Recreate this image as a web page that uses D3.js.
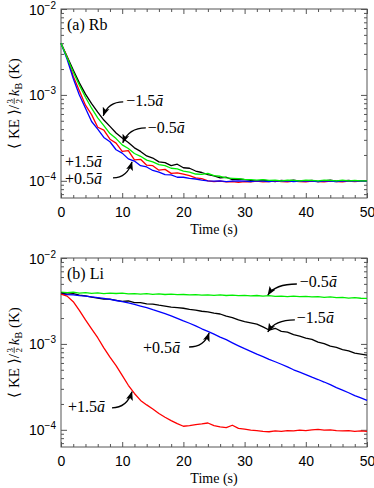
<!DOCTYPE html>
<html>
<head>
<meta charset="utf-8">
<script src="https://cdn.jsdelivr.net/npm/d3@7"></script>
<style>
  body { margin: 0; background: #fff; }
  svg { display: block; font-family: "Liberation Serif", "Times New Roman", serif; }
</style>
</head>
<body>
<svg id="chart" width="374" height="488"></svg>
<script>
// sampled once per second, 0..50 s
const times = d3.range(0, 51);

// (a) Rb, <KE>/(3/2 kB) in K
const rbM15 = [4.0e-3, 2.8e-3, 1.95e-3, 1.38e-3, 1.02e-3, 7.9e-4, 6.3e-4, 5.1e-4, 4.3e-4, 3.6e-4,
  3.15e-4, 2.8e-4, 2.42e-4, 2.2e-4, 1.95e-4, 1.84e-4, 1.66e-4, 1.63e-4, 1.5e-4, 1.56e-4,
  1.42e-4, 1.4e-4, 1.3e-4, 1.25e-4, 1.18e-4, 1.14e-4, 1.08e-4, 1.1e-4, 1.03e-4, 1.05e-4,
  1.03e-4, 1.01e-4, 0.99e-4, 1.02e-4, 1.0e-4, 0.98e-4, 1.01e-4, 1.0e-4, 1.02e-4, 0.99e-4,
  1.0e-4, 1.01e-4, 0.98e-4, 1.0e-4, 1.02e-4, 0.99e-4, 1.0e-4, 1.01e-4, 0.99e-4, 1.0e-4, 1.0e-4];
const rbM05 = [4.0e-3, 2.7e-3, 1.85e-3, 1.3e-3, 9.4e-4, 7.0e-4, 5.4e-4, 4.4e-4, 3.55e-4, 3.1e-4,
  2.62e-4, 2.38e-4, 2.08e-4, 1.93e-4, 1.74e-4, 1.66e-4, 1.54e-4, 1.5e-4, 1.4e-4, 1.38e-4,
  1.3e-4, 1.26e-4, 1.2e-4, 1.19e-4, 1.22e-4, 1.15e-4, 1.13e-4, 1.08e-4, 1.07e-4, 1.06e-4,
  1.04e-4, 1.03e-4, 1.02e-4, 1.03e-4, 1.01e-4, 1.02e-4, 1.0e-4, 1.02e-4, 1.01e-4, 1.0e-4,
  1.02e-4, 1.01e-4, 1.0e-4, 1.02e-4, 1.01e-4, 1.0e-4, 1.02e-4, 1.0e-4, 1.01e-4, 1.0e-4, 1.0e-4];
const rbP15 = [4.0e-3, 2.75e-3, 1.65e-3, 1.12e-3, 7.6e-4, 5.9e-4, 4.2e-4, 3.9e-4, 3.05e-4, 2.75e-4,
  2.2e-4, 2.25e-4, 1.75e-4, 1.78e-4, 1.52e-4, 1.5e-4, 1.33e-4, 1.36e-4, 1.22e-4, 1.24e-4,
  1.2e-4, 1.15e-4, 1.08e-4, 1.06e-4, 1.0e-4, 0.98e-4, 0.99e-4, 0.97e-4, 0.98e-4, 0.96e-4,
  0.98e-4, 0.97e-4, 0.99e-4, 0.97e-4, 0.98e-4, 1.0e-4, 0.98e-4, 0.97e-4, 0.99e-4, 0.98e-4,
  0.97e-4, 0.99e-4, 0.98e-4, 0.97e-4, 0.99e-4, 0.98e-4, 0.97e-4, 0.99e-4, 0.98e-4, 0.99e-4, 1.0e-4];
const rbP05 = [4.0e-3, 2.6e-3, 1.55e-3, 1.0e-3, 7.0e-4, 4.9e-4, 4.0e-4, 3.2e-4, 2.85e-4, 2.3e-4,
  2.1e-4, 1.8e-4, 1.7e-4, 1.5e-4, 1.45e-4, 1.32e-4, 1.26e-4, 1.18e-4, 1.17e-4, 1.1e-4,
  1.1e-4, 1.07e-4, 1.05e-4, 1.02e-4, 1.0e-4, 0.99e-4, 1.0e-4, 0.98e-4, 0.99e-4, 1.0e-4,
  0.99e-4, 0.98e-4, 1.0e-4, 0.99e-4, 0.98e-4, 1.0e-4, 0.99e-4, 1.0e-4, 0.98e-4, 0.99e-4,
  1.0e-4, 0.99e-4, 0.98e-4, 1.0e-4, 0.99e-4, 0.98e-4, 1.0e-4, 0.99e-4, 0.99e-4, 1.0e-4, 0.99e-4];

// (b) Li
const liM05 = [4.0e-3, 3.95e-3, 4.0e-3, 3.9e-3, 3.95e-3, 3.88e-3, 3.92e-3, 3.85e-3, 3.9e-3, 3.86e-3,
  3.9e-3, 3.82e-3, 3.85e-3, 3.8e-3, 3.84e-3, 3.78e-3, 3.82e-3, 3.76e-3, 3.8e-3, 3.74e-3,
  3.76e-3, 3.72e-3, 3.75e-3, 3.7e-3, 3.73e-3, 3.68e-3, 3.72e-3, 3.66e-3, 3.7e-3, 3.65e-3,
  3.68e-3, 3.62e-3, 3.66e-3, 3.6e-3, 3.64e-3, 3.58e-3, 3.6e-3, 3.56e-3, 3.6e-3, 3.55e-3,
  3.57e-3, 3.52e-3, 3.55e-3, 3.48e-3, 3.52e-3, 3.46e-3, 3.48e-3, 3.42e-3, 3.45e-3, 3.4e-3, 3.38e-3];
const liM15 = [3.9e-3, 3.8e-3, 3.85e-3, 3.7e-3, 3.62e-3, 3.5e-3, 3.42e-3, 3.32e-3, 3.32e-3, 3.22e-3,
  3.12e-3, 3.16e-3, 3.02e-3, 3.02e-3, 2.92e-3, 2.9e-3, 2.82e-3, 2.76e-3, 2.68e-3, 2.64e-3,
  2.6e-3, 2.52e-3, 2.47e-3, 2.4e-3, 2.36e-3, 2.28e-3, 2.23e-3, 2.1e-3, 2.02e-3, 1.9e-3,
  1.82e-3, 1.76e-3, 1.7e-3, 1.58e-3, 1.45e-3, 1.52e-3, 1.4e-3, 1.37e-3, 1.28e-3, 1.23e-3,
  1.17e-3, 1.13e-3, 1.05e-3, 1.01e-3, 0.94e-3, 0.91e-3, 0.86e-3, 0.83e-3, 0.78e-3, 0.76e-3, 0.74e-3];
const liP05 = [3.8e-3, 3.75e-3, 3.72e-3, 3.65e-3, 3.6e-3, 3.52e-3, 3.45e-3, 3.38e-3, 3.3e-3, 3.2e-3,
  3.1e-3, 3.0e-3, 2.88e-3, 2.76e-3, 2.64e-3, 2.5e-3, 2.38e-3, 2.25e-3, 2.12e-3, 1.98e-3,
  1.85e-3, 1.74e-3, 1.62e-3, 1.5e-3, 1.4e-3, 1.3e-3, 1.2e-3, 1.12e-3, 1.03e-3, 0.95e-3,
  0.88e-3, 0.82e-3, 0.76e-3, 0.71e-3, 0.66e-3, 0.62e-3, 0.58e-3, 0.54e-3, 0.5e-3, 0.47e-3,
  0.44e-3, 0.41e-3, 0.385e-3, 0.36e-3, 0.335e-3, 0.31e-3, 0.29e-3, 0.27e-3, 0.25e-3, 0.235e-3, 0.22e-3];
const liP15 = [3.8e-3, 3.6e-3, 3.1e-3, 2.45e-3, 1.9e-3, 1.5e-3, 1.18e-3, 9.0e-4, 7.0e-4, 5.6e-4,
  4.3e-4, 3.3e-4, 2.65e-4, 2.2e-4, 1.95e-4, 1.75e-4, 1.55e-4, 1.4e-4, 1.28e-4, 1.18e-4,
  1.1e-4, 1.12e-4, 1.15e-4, 1.17e-4, 1.2e-4, 1.12e-4, 1.08e-4, 1.06e-4, 1.13e-4, 1.04e-4,
  1.02e-4, 0.99e-4, 0.98e-4, 0.96e-4, 0.95e-4, 0.97e-4, 0.96e-4, 0.98e-4, 0.97e-4, 0.99e-4,
  0.98e-4, 1.0e-4, 1.01e-4, 0.99e-4, 1.0e-4, 0.98e-4, 0.97e-4, 0.98e-4, 0.96e-4, 0.97e-4, 0.96e-4];

const xMajorTicks = [0, 10, 20, 30, 40, 50];
const yDecades = [1e-4, 1e-3, 1e-2];
const panelLabels = ["(a) Rb", "(b) Li"];

const colors = { m15: "#000000", m05: "#00ee00", p05: "#0000ff", p15: "#ff0000" };

const left = 61, right = 367;
const svg = d3.select("#chart");

const x = d3.scaleLinear().domain([0, 50]).range([left, right]);

svg.append("defs").append("marker")
  .attr("id", "arrow")
  .attr("markerUnits", "userSpaceOnUse")
  .attr("markerWidth", 10).attr("markerHeight", 8)
  .attr("refX", 8.5).attr("refY", 4)
  .attr("orient", "auto")
  .append("path")
  .attr("d", "M0,0.5 L9,4 L0,7.5 L2,4 Z")
  .attr("fill", "#000");

const panels = [
  {
    label: panelLabels[0], top: 9, bottom: 198,
    series: [
      { values: rbM15, color: colors.m15 },
      { values: rbP15, color: colors.p15 },
      { values: rbP05, color: colors.p05 },
      { values: rbM05, color: colors.m05 }
    ],
    // arrow tip in data coords, tail and text offsets in px
    notes: [
      { tip: [6.9, 5.7e-4], tail: [20, -14], texts: [["−1.5", 23, -10]] },
      { tip: [10.1, 2.77e-4], tail: [23, -15], texts: [["−0.5", 25, -10]] },
      { tip: [11.6, 1.66e-4], tail: [-19, 16], texts: [["+1.5", -67, 5], ["+0.5", -67, 22]] }
    ]
  },
  {
    label: panelLabels[1], top: 258, bottom: 447,
    series: [
      { values: liM05, color: colors.m05 },
      { values: liM15, color: colors.m15 },
      { values: liP05, color: colors.p05 },
      { values: liP15, color: colors.p15 }
    ],
    notes: [
      { tip: [33.8, 3.71e-3], tail: [29, -11], texts: [["−0.5", 32, -8]] },
      { tip: [33.8, 1.38e-3], tail: [27, -12], texts: [["−1.5", 29, -9]] },
      { tip: [24.2, 1.34e-3], tail: [-20, 14], texts: [["+0.5", -66, 20]] },
      { tip: [11.6, 2.77e-4], tail: [-20, 16], texts: [["+1.5", -64, 20]] }
    ]
  }
];

panels.forEach(p => drawPanel(p));

function drawPanel(p) {
  const y = d3.scaleLog().domain([Math.pow(10, -4.2), 1e-2]).range([p.bottom, p.top]);
  const g = svg.append("g");

  const minorY = y.ticks().filter(v => !yDecades.some(d => Math.abs(v / d - 1) < 1e-6));
  const minorX = d3.range(0, 51, 2).filter(v => v % 10 !== 0);

  const axisDefs = [
    [d3.axisBottom(x).tickValues(xMajorTicks).tickSize(-5), p.bottom, "x", true],
    [d3.axisBottom(x).tickValues(minorX).tickSize(-3), p.bottom, "x", false],
    [d3.axisTop(x).tickValues(xMajorTicks).tickSize(-5), p.top, "x", false],
    [d3.axisTop(x).tickValues(minorX).tickSize(-3), p.top, "x", false],
    [d3.axisLeft(y).tickValues(yDecades).tickSize(-6), left, "y", true],
    [d3.axisLeft(y).tickValues(minorY).tickSize(-3), left, "y", false],
    [d3.axisRight(y).tickValues(yDecades).tickSize(-6), right, "y", false],
    [d3.axisRight(y).tickValues(minorY).tickSize(-3), right, "y", false]
  ];

  axisDefs.forEach(([axis, pos, dir, labelled]) => {
    const a = g.append("g")
      .attr("transform", dir === "x" ? `translate(0,${pos})` : `translate(${pos},0)`)
      .call(axis.tickSizeOuter(0).tickPadding(dir === "x" ? 9 : 5));
    a.select(".domain").remove();
    a.selectAll(".tick line").attr("stroke", "#555").attr("stroke-width", 1);
    a.selectAll("text").attr("font-family", null).attr("fill", "#000").attr("font-size", 14);
    if (!labelled) a.selectAll("text").remove();
    if (labelled && dir === "y") {
      a.selectAll("text").each(function (d) {
        const t = d3.select(this).text(null).attr("dy", "0.36em");
        t.append("tspan").text("10");
        t.append("tspan").attr("font-size", 10).attr("dy", -6).text(d3.format("d")(Math.log10(d)).replace("-", "−"));
      });
    }
  });

  // frame
  g.append("rect")
    .attr("x", left).attr("y", p.top)
    .attr("width", right - left).attr("height", p.bottom - p.top)
    .attr("fill", "none").attr("stroke", "#555").attr("stroke-width", 1);

  const line = d3.line().x((d, i) => x(times[i])).y(d => y(d));

  g.selectAll("path.series")
    .data(p.series)
    .join("path")
    .attr("class", "series")
    .attr("d", d => line(d.values))
    .attr("fill", "none")
    .attr("stroke", d => d.color)
    .attr("stroke-width", 1.3)
    .attr("stroke-linejoin", "round");

  g.append("text")
    .attr("x", left + 6).attr("y", p.top + 21)
    .attr("font-size", 16)
    .text(p.label);

  p.notes.forEach(n => {
    const tx = x(n.tip[0]), ty = y(n.tip[1]);
    const sx = tx + n.tail[0], sy = ty + n.tail[1];
    const cx = tx + 0.25 * n.tail[0];
    g.append("path")
      .attr("d", `M${sx},${sy} Q${cx},${sy} ${tx},${ty}`)
      .attr("fill", "none").attr("stroke", "#000").attr("stroke-width", 1.3)
      .attr("marker-end", "url(#arrow)");
    n.texts.forEach(([s, dx, dy]) => {
      const t = g.append("text")
        .attr("x", tx + dx).attr("y", ty + dy)
        .attr("font-size", 16);
      t.append("tspan").text(s);
      t.append("tspan").attr("font-style", "italic").text("ā");
    });
  });

  // axis titles
  g.append("text")
    .attr("x", (left + right) / 2).attr("y", p.bottom + 36)
    .attr("text-anchor", "middle").attr("font-size", 14)
    .text("Time (s)");

  yTitle(19, (p.top + p.bottom) / 2);
}

function yTitle(cx, cy) {
  const outer = svg.append("g").attr("transform", `translate(${cx},${cy}) rotate(-90)`);
  const g = outer.append("g");
  const fs = 15;
  let pos = 0;
  const t1 = g.append("text").attr("font-size", fs).attr("x", pos).text("⟨ KE ⟩/ ");
  pos += t1.node().getComputedTextLength() + 1;
  // stacked 3/2
  g.append("text").attr("font-size", 9).attr("x", pos + 3).attr("y", -6.5)
    .attr("text-anchor", "middle").text("3");
  g.append("line").attr("x1", pos).attr("x2", pos + 6).attr("y1", -4.8).attr("y2", -4.8)
    .attr("stroke", "#000").attr("stroke-width", 0.7);
  g.append("text").attr("font-size", 9).attr("x", pos + 3).attr("y", 3)
    .attr("text-anchor", "middle").text("2");
  pos += 8;
  const t2 = g.append("text").attr("font-size", fs).attr("x", pos);
  t2.append("tspan").attr("font-style", "italic").text("k");
  t2.append("tspan").attr("font-size", 10).attr("dy", 3).text("B");
  t2.append("tspan").attr("dy", -3).text(" (K)");
  pos += t2.node().getComputedTextLength();
  g.attr("transform", `translate(${-pos / 2},0)`);
}
</script>
</body>
</html>
